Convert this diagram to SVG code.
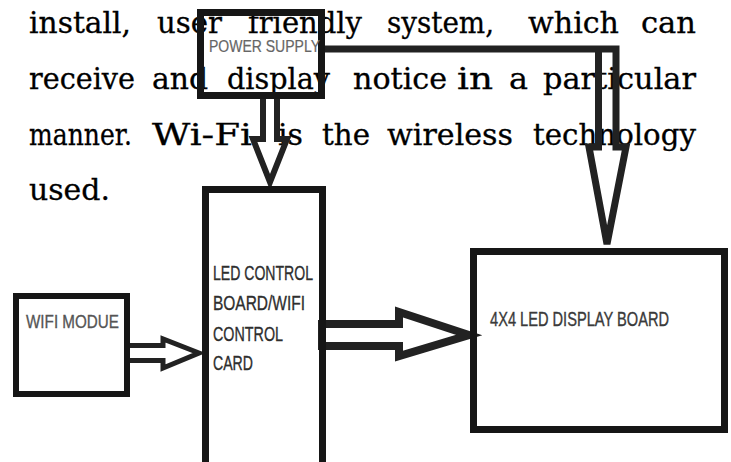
<svg xmlns="http://www.w3.org/2000/svg" width="731" height="462" viewBox="0 0 731 462">
<style>
.p{font-family:"DejaVu Serif",serif;font-size:29px;fill:#000;stroke:#000;stroke-width:0.3}
.lbl{font-family:"Liberation Sans Narrow","Liberation Sans",sans-serif;font-size:21px;fill:#2e2e2e;stroke:#2e2e2e;stroke-width:0.35}
.box{fill:none;stroke:#161616}
.con{fill:none;stroke:#222;stroke-linejoin:miter}
</style>
<rect width="731" height="462" fill="#fff"/>
<g id="paragraph">
<text class="p" y="33">
<tspan x="29" textLength="102" lengthAdjust="spacingAndGlyphs">install,</tspan>
<tspan x="157" textLength="65" lengthAdjust="spacingAndGlyphs">user</tspan>
<tspan x="248" textLength="114" lengthAdjust="spacingAndGlyphs">friendly</tspan>
<tspan x="387" textLength="107" lengthAdjust="spacingAndGlyphs">system,</tspan>
<tspan x="528" textLength="91" lengthAdjust="spacingAndGlyphs">which</tspan>
<tspan x="641" textLength="55" lengthAdjust="spacingAndGlyphs">can</tspan>
</text>
<text class="p" y="89">
<tspan x="29" textLength="106" lengthAdjust="spacingAndGlyphs">receive</tspan>
<tspan x="152" textLength="56" lengthAdjust="spacingAndGlyphs">and</tspan>
<tspan x="227" textLength="103" lengthAdjust="spacingAndGlyphs">display</tspan>
<tspan x="353" textLength="94" lengthAdjust="spacingAndGlyphs">notice</tspan>
<tspan x="457" textLength="36" lengthAdjust="spacingAndGlyphs">in</tspan>
<tspan x="509" textLength="19" lengthAdjust="spacingAndGlyphs">a</tspan>
<tspan x="543" textLength="153" lengthAdjust="spacingAndGlyphs">particular</tspan>
</text>
<text class="p" y="145">
<tspan x="29" textLength="103" lengthAdjust="spacingAndGlyphs">manner.</tspan>
<tspan x="152" textLength="100" lengthAdjust="spacingAndGlyphs">Wi-Fi</tspan>
<tspan x="278" textLength="25" lengthAdjust="spacingAndGlyphs">is</tspan>
<tspan x="322" textLength="48" lengthAdjust="spacingAndGlyphs">the</tspan>
<tspan x="387" textLength="126" lengthAdjust="spacingAndGlyphs">wireless</tspan>
<tspan x="533" textLength="163" lengthAdjust="spacingAndGlyphs">technology</tspan>
</text>
<text class="p" y="200"><tspan x="29" textLength="81" lengthAdjust="spacingAndGlyphs">used.</tspan></text>
</g>
<g id="connectors">
<path class="con" stroke-width="6" d="M263,99 V139 H253 L270,182 L287,139 H277 V99"/>
<path class="con" stroke-width="7" stroke="#2e2e2e" d="M325,49 H616 V147 H626 L607,244 L589,147 H598.5 V49"/>
<path class="con" stroke-width="5" stroke="#111" d="M128,345.5 H163 V339 L199,353 L163,368 V360.5 H128"/>
<path class="con" stroke-width="8" stroke="#0a0a0a" d="M322,324 H399 V312 L469,335 L399,356 V346 H322 Z"/>
</g>
<g id="power-supply">
<rect class="box" x="200.5" y="12.5" width="121" height="83" stroke-width="7" stroke="#2e2e2e"/>
<text class="lbl" x="209" y="52" style="font-size:17px;fill:#666;stroke:#666;stroke-width:0.2" textLength="111" lengthAdjust="spacingAndGlyphs">POWER SUPPLY</text>
</g>
<g id="led-control-board">
<rect class="box" x="205.5" y="189.5" width="117" height="300" stroke-width="7"/>
<text class="lbl" x="213" y="280" textLength="100" lengthAdjust="spacingAndGlyphs">LED CONTROL</text>
<text class="lbl" x="213" y="310" textLength="92" lengthAdjust="spacingAndGlyphs">BOARD/WIFI</text>
<text class="lbl" x="213" y="341" textLength="70" lengthAdjust="spacingAndGlyphs">CONTROL</text>
<text class="lbl" x="213" y="370" textLength="40" lengthAdjust="spacingAndGlyphs">CARD</text>
</g>
<g id="wifi-module">
<rect class="box" x="16" y="296" width="111" height="98" stroke-width="6" stroke="#222"/>
<text class="lbl" x="26" y="328" style="font-size:19px;fill:#555;stroke:#555" textLength="93" lengthAdjust="spacingAndGlyphs">WIFI MODUE</text>
</g>
<g id="display-board">
<rect class="box" x="473.5" y="251.5" width="251" height="178" stroke-width="7"/>
<text class="lbl" x="490" y="326" style="font-size:19.5px;fill:#3a3a3a;stroke:#3a3a3a" textLength="179" lengthAdjust="spacingAndGlyphs">4X4 LED DISPLAY BOARD</text>
</g>
</svg>
